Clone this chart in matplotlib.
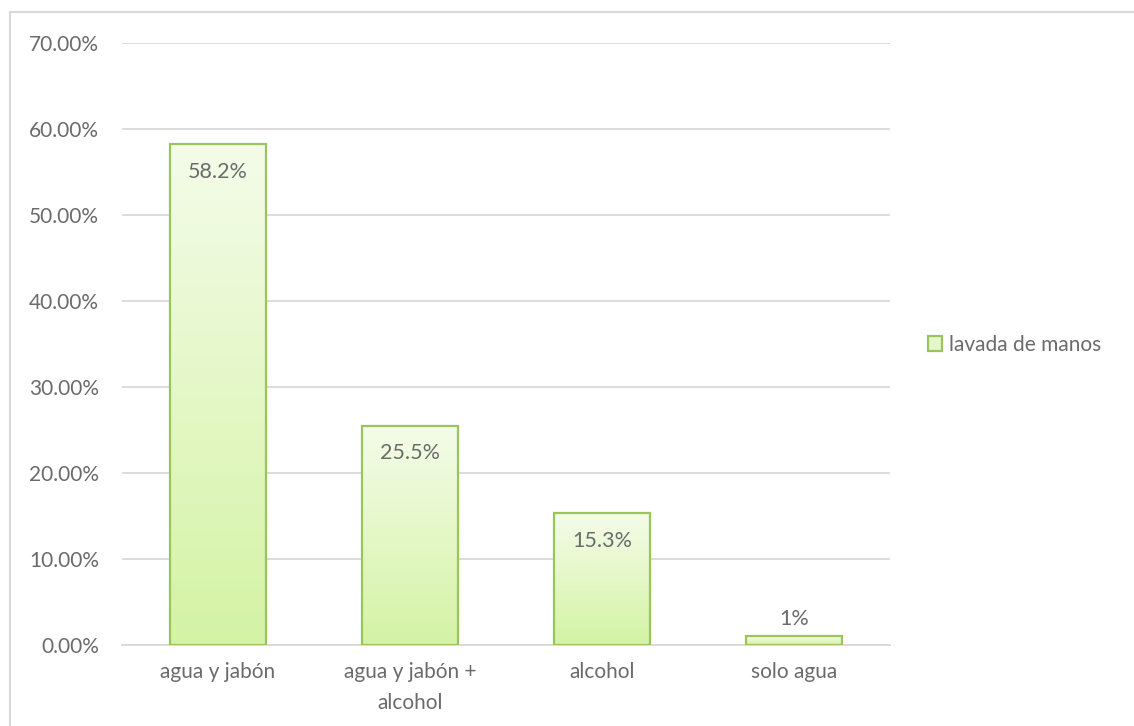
import matplotlib.pyplot as plt
import matplotlib.patches as patches
from matplotlib.colors import LinearSegmentedColormap
import numpy as np

categories = ["agua y jabón", "agua y jabón +\nalcohol", "alcohol", "solo agua"]
values = [58.2, 25.5, 15.3, 1.0]
value_labels = ["58.2%", "25.5%", "15.3%", "1%"]
series_name = "lavada de manos"
yticks = [0, 10, 20, 30, 40, 50, 60, 70]

plt.rcParams["font.family"] = ["Lato", "DejaVu Sans"]
text_color = "#6b6b6b"
edge_color = "#9bc45a"

fig = plt.figure(figsize=(11.34, 7.26), dpi=100)
# outer chart border (runs off the right and bottom edges)
fig.patches.append(
    patches.Rectangle(
        (10 / 1134, -0.01), 1.0, 1 - 12 / 726 + 0.01,
        transform=fig.transFigure, fill=False, edgecolor="#d9d9d9", lw=1.5,
    )
)
ax = fig.add_axes([122 / 1134, 1 - 645 / 726, 768 / 1134, 602 / 726])

x = np.arange(len(categories))
bars = ax.bar(x, values, width=0.5, color="none", edgecolor=edge_color, lw=1.6, zorder=3)

# vertical gradient fill for each bar
grad = np.linspace(0, 1, 256).reshape(-1, 1)
cmap = LinearSegmentedColormap.from_list("g", ["#d4f3a4", "#f4fce9"])
for b in bars:
    x0, w, h = b.get_x(), b.get_width(), b.get_height()
    im = ax.imshow(grad, cmap=cmap, aspect="auto", origin="lower",
                   extent=[x0, x0 + w, 0, h], zorder=2)
    im.set_clip_path(b)

for xi, v, lab in zip(x, values, value_labels):
    if v > 5:
        ax.text(xi, v - 2.0, lab, ha="center", va="top", fontsize=15.5, color=text_color, zorder=4)
    else:
        ax.text(xi, v + 0.9, lab, ha="center", va="bottom", fontsize=15.5, color=text_color, zorder=4)

ax.set_xlim(-0.5, len(categories) - 0.5)
ax.set_ylim(0, 70)
ax.set_yticks(yticks)
ax.set_yticklabels([f"{t:.2f}%" for t in yticks])
ax.set_xticks(x)
ax.set_xticklabels(categories, linespacing=1.7)
ax.tick_params(length=0, labelsize=15, labelcolor=text_color)
ax.tick_params(axis="y", pad=16.5)
ax.tick_params(axis="x", pad=12)
ax.grid(axis="y", color="#d9d9d9", lw=1.3, zorder=0)
for s in ["top", "right", "left"]:
    ax.spines[s].set_visible(False)
ax.spines["bottom"].set_color("#d9d9d9")
ax.spines["bottom"].set_linewidth(1.3)
ax.set_autoscale_on(False)

legend_handle = patches.Patch(facecolor="#e4f7c6", edgecolor=edge_color, lw=1.6, label=series_name)
fig.legend(handles=[legend_handle], loc="center left", bbox_to_anchor=(909 / 1134, 1 - 345 / 726),
           frameon=False, fontsize=15, labelcolor=text_color, handlelength=0.7,
           handleheight=0.7, handletextpad=0.3)

fig.savefig("out.png", dpi=100)
